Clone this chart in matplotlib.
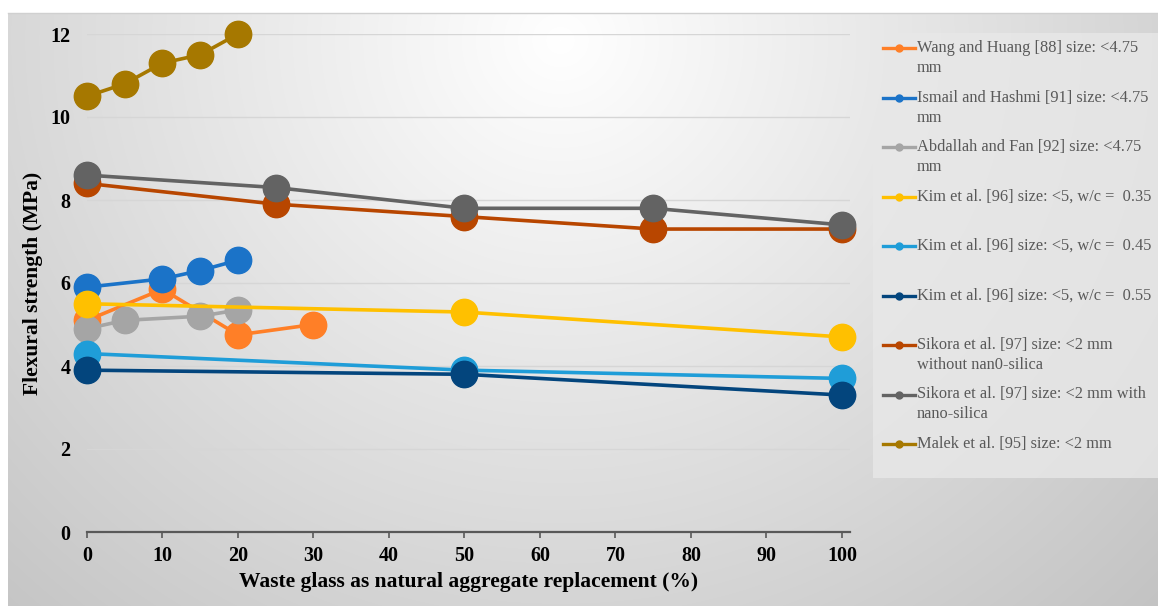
import numpy as np
import matplotlib
matplotlib.use('Agg')
import matplotlib.pyplot as plt
from matplotlib.lines import Line2D
from matplotlib.patches import Rectangle

# replacement levels (%) and flexural strength (MPa) per study
wang_x = [0, 10, 20, 30]
wang_y = [5.1, 5.85, 4.75, 5.0]
ismail_x = [0, 10, 15, 20]
ismail_y = [5.9, 6.1, 6.3, 6.55]
abdallah_x = [0, 5, 15, 20]
abdallah_y = [4.9, 5.1, 5.2, 5.35]
kim_x = [0, 50, 100]
kim35_y = [5.5, 5.3, 4.7]
kim45_y = [4.3, 3.9, 3.7]
kim55_y = [3.9, 3.8, 3.3]
sikora_x = [0, 25, 50, 75, 100]
sikora_wo_y = [8.4, 7.9, 7.6, 7.3, 7.3]
sikora_w_y = [8.6, 8.3, 7.8, 7.8, 7.4]
malek_x = [0, 5, 10, 15, 20]
malek_y = [10.5, 10.8, 11.3, 11.5, 12.0]

labels = [
    'Wang and Huang [88] size: <4.75\nmm',
    'Ismail and Hashmi [91] size: <4.75\nmm',
    'Abdallah and Fan [92] size: <4.75\nmm',
    'Kim et al. [96] size: <5, w/c =  0.35',
    'Kim et al. [96] size: <5, w/c =  0.45',
    'Kim et al. [96] size: <5, w/c =  0.55',
    'Sikora et al. [97] size: <2 mm\nwithout nan0-silica',
    'Sikora et al. [97] size: <2 mm with\nnano-silica',
    'Malek et al. [95] size: <2 mm',
]
colors = ['#FF7F27', '#1B73C8', '#A5A5A5', '#FFC000', '#1F9DD8',
          '#03457D', '#B84600', '#636363', '#A67800']
series = [(wang_x, wang_y), (ismail_x, ismail_y), (abdallah_x, abdallah_y),
          (kim_x, kim35_y), (kim_x, kim45_y), (kim_x, kim55_y),
          (sikora_x, sikora_wo_y), (sikora_x, sikora_w_y), (malek_x, malek_y)]

W, H = 1158, 606
fig = plt.figure(figsize=(W / 100, H / 100), dpi=100)
fig.patch.set_facecolor('white')

# radial gradient background of the chart area
bg = fig.add_axes([8 / W, 0, 1 - 8 / W, 593 / H], zorder=0)
gx, gy = np.meshgrid(np.arange(8, W), np.arange(13, H))
r = np.hypot(gx - 560, (gy - 40) * 1.05)
shade = np.clip(1 - 0.22 * r / 790, 0, 1)
bg.imshow(np.dstack([shade] * 3), aspect='auto', extent=(0, 1, 0, 1),
          interpolation='bilinear')
bg.axis('off')
fig.add_artist(Line2D([8 / W, 1], [1 - 13 / H] * 2, color='#d0d0d0', lw=1))

ax = fig.add_axes([87 / W, 1 - 532 / H, 762.5 / W, 498 / H], zorder=2)
ax.patch.set_alpha(0)
for (x, y), c in zip(series, colors):
    ax.plot(x, y, color=c, lw=2.6, marker='o', markersize=19,
            clip_on=False, zorder=3)

ax.set_xlim(0, 101)
ax.set_ylim(0, 12)
ax.set_xticks(range(0, 101, 10))
ax.set_yticks(range(0, 13, 2))
ax.grid(axis='y', color='#d6d6d6', lw=1)
ax.set_axisbelow(True)
for s in ['top', 'right', 'left']:
    ax.spines[s].set_visible(False)
ax.spines['bottom'].set_color('#595959')
ax.spines['bottom'].set_linewidth(1.6)
ax.tick_params(axis='x', direction='out', length=4, width=1.2,
               color='#595959', pad=6)
ax.tick_params(axis='y', length=0, pad=12)
for t in ax.get_xticklabels() + ax.get_yticklabels():
    t.set_fontfamily('Liberation Serif')
    t.set_fontweight('bold')
    t.set_fontsize(14.5)
ax.set_xlabel('Waste glass as natural aggregate replacement (%)',
              family='Liberation Serif', weight='bold', fontsize=15.5)
ax.set_ylabel('Flexural strength (MPa)', family='Liberation Serif',
              weight='bold', fontsize=15.5)
ax.xaxis.set_label_coords(0.5, -0.08)
ax.yaxis.set_label_coords(-0.058, 0.5)

# legend drawn by hand to keep the uneven wrapping
fig.add_artist(Rectangle((873 / W, 1 - 478 / H), (W - 873) / W, 445 / H,
                         transform=fig.transFigure, facecolor='#e8e8e8',
                         edgecolor='none', alpha=0.8, zorder=1))
for i, (lab, c) in enumerate(zip(labels, colors)):
    yy = 48 + 49.5 * i
    fig.add_artist(Line2D([883 / W, 915 / W], [1 - yy / H] * 2, color=c,
                          lw=2.4, zorder=3))
    fig.add_artist(Line2D([899 / W], [1 - yy / H], color=c, marker='o',
                          markersize=5, zorder=3))
    for j, line in enumerate(lab.split('\n')):
        fig.text(917 / W, 1 - (yy + 20 * j) / H, line, va='center',
                 ha='left', family='Liberation Serif', fontsize=11.8,
                 color='#595959', zorder=3)

fig.savefig('out.png', dpi=100)
